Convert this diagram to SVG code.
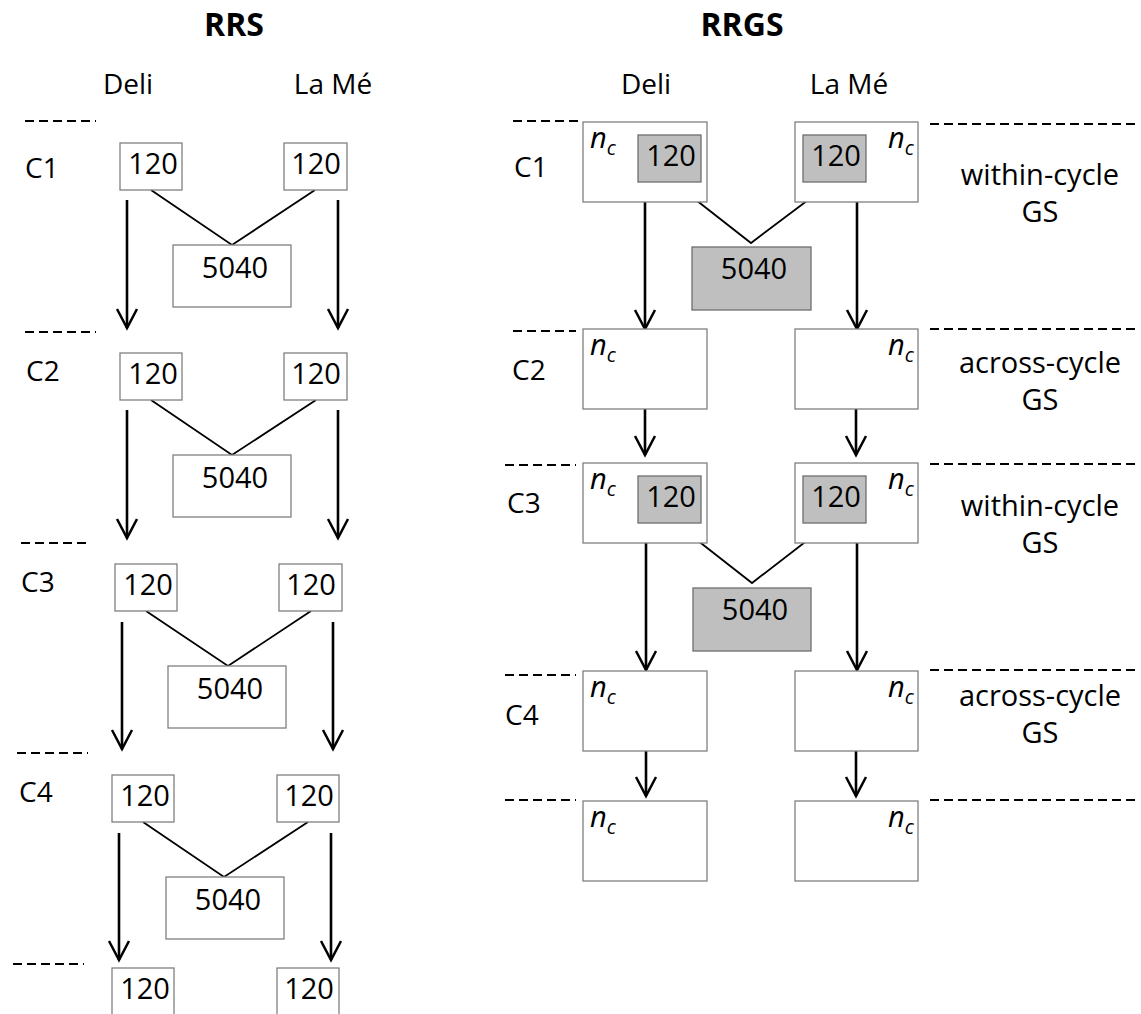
<svg xmlns="http://www.w3.org/2000/svg" width="1141" height="1014" viewBox="0 0 1141 1014">
<defs>
<marker id="ah" markerUnits="userSpaceOnUse" viewBox="-22 -13 26 26" markerWidth="26" markerHeight="26" refX="0" refY="0" orient="auto">
<path d="M-19,-10 L0,0 L-19,10" fill="none" stroke="#000" stroke-width="2.5"/>
</marker>
<style>
text{font-family:"Open Sans","Liberation Sans",sans-serif;fill:#000}
.title{font-size:32px;font-weight:bold;text-anchor:middle}
.col{font-size:28px;text-anchor:middle}
.cyc{font-size:28px}
.num{font-size:29px;text-anchor:middle}
.lab{font-size:29px;text-anchor:middle}
.nc{font-size:29px;font-style:italic}
.nc tspan{font-size:20px}
.box{fill:#fff;stroke:#808080;stroke-width:1.3}
.gbox{fill:#bfbfbf;stroke:#6e6e6e;stroke-width:1.3}
.link{stroke:#000;stroke-width:1.8;fill:none}
.arr{stroke:#000;stroke-width:2.6;fill:none;marker-end:url(#ah)}
.dash{stroke:#000;stroke-width:1.8;stroke-dasharray:9 5;fill:none}
</style>
</defs>
<rect width="1141" height="1014" fill="#fff"/>

<g id="headings">
<text class="title" x="234" y="36">RRS</text>
<text class="title" x="742" y="36">RRGS</text>
<text class="col" x="128" y="94">Deli</text>
<text class="col" x="333" y="94">La Mé</text>
<text class="col" x="646" y="94">Deli</text>
<text class="col" x="849" y="94">La Mé</text>
</g>

<g id="cycle-labels">
<text class="cyc" x="25" y="178">C1</text>
<text class="cyc" x="26" y="381">C2</text>
<text class="cyc" x="21" y="592">C3</text>
<text class="cyc" x="19" y="802">C4</text>
<text class="cyc" x="514" y="177">C1</text>
<text class="cyc" x="512" y="380">C2</text>
<text class="cyc" x="507" y="513">C3</text>
<text class="cyc" x="505" y="725">C4</text>
<text class="lab" x="1040" y="185">within-cycle</text>
<text class="lab" x="1040" y="222">GS</text>
<text class="lab" x="1040" y="373">across-cycle</text>
<text class="lab" x="1040" y="410">GS</text>
<text class="lab" x="1040" y="516">within-cycle</text>
<text class="lab" x="1040" y="553">GS</text>
<text class="lab" x="1040" y="706">across-cycle</text>
<text class="lab" x="1040" y="743">GS</text>
</g>

<g id="separators">
<line class="dash" x1="25" y1="121" x2="96" y2="121"/>
<line class="dash" x1="25" y1="332" x2="96" y2="332"/>
<line class="dash" x1="21" y1="543" x2="91" y2="543"/>
<line class="dash" x1="17" y1="753" x2="88" y2="753"/>
<line class="dash" x1="13" y1="964" x2="84" y2="964"/>
<line class="dash" x1="513" y1="121" x2="583" y2="121"/>
<line class="dash" x1="513" y1="331" x2="576" y2="331"/>
<line class="dash" x1="505" y1="465" x2="576" y2="465"/>
<line class="dash" x1="505" y1="675" x2="576" y2="675"/>
<line class="dash" x1="505" y1="800" x2="576" y2="800"/>
<line class="dash" x1="930" y1="124" x2="1135" y2="124"/>
<line class="dash" x1="930" y1="329" x2="1135" y2="329"/>
<line class="dash" x1="930" y1="464" x2="1135" y2="464"/>
<line class="dash" x1="930" y1="670" x2="1135" y2="670"/>
<line class="dash" x1="930" y1="800" x2="1135" y2="800"/>
</g>

<g id="connectors">
<polyline class="link" points="151,190 232,245 315,190"/>
<line class="arr" x1="127" y1="200" x2="127" y2="328"/>
<line class="arr" x1="338" y1="200" x2="338" y2="328"/>
<polyline class="link" points="151,400 232,455 316,400"/>
<line class="arr" x1="127" y1="410" x2="127" y2="538"/>
<line class="arr" x1="338" y1="410" x2="338" y2="538"/>
<polyline class="link" points="146,611 228,666 311,611"/>
<line class="arr" x1="122" y1="622" x2="122" y2="749"/>
<line class="arr" x1="333" y1="622" x2="333" y2="749"/>
<polyline class="link" points="143,822 224,877 308,822"/>
<line class="arr" x1="119" y1="833" x2="119" y2="960"/>
<line class="arr" x1="331" y1="833" x2="331" y2="960"/>
<polyline class="link" points="673,182 751,243 832,182"/>
<line class="arr" x1="645" y1="202" x2="645" y2="329"/>
<line class="arr" x1="857" y1="202" x2="857" y2="329"/>
<line class="arr" x1="645" y1="409" x2="645" y2="455"/>
<line class="arr" x1="856" y1="409" x2="856" y2="455"/>
<polyline class="link" points="674,522 752,583 831,522"/>
<line class="arr" x1="646" y1="543" x2="646" y2="670"/>
<line class="arr" x1="857" y1="543" x2="857" y2="670"/>
<line class="arr" x1="646" y1="751" x2="646" y2="796"/>
<line class="arr" x1="856" y1="751" x2="856" y2="796"/>
</g>

<g id="rrs-c1-deli"><rect class="box" x="120" y="143" width="62" height="47"/><text class="num" x="153" y="174">120</text></g>
<g id="rrs-c1-lame"><rect class="box" x="284" y="143" width="63" height="47"/><text class="num" x="316" y="174">120</text></g>
<g id="rrs-c1-cross"><rect class="box" x="173" y="245" width="118" height="62"/><text class="num" x="235" y="278">5040</text></g>
<g id="rrs-c2-deli"><rect class="box" x="120" y="353" width="62" height="47"/><text class="num" x="153" y="384">120</text></g>
<g id="rrs-c2-lame"><rect class="box" x="284" y="353" width="63" height="47"/><text class="num" x="316" y="384">120</text></g>
<g id="rrs-c2-cross"><rect class="box" x="173" y="455" width="118" height="62"/><text class="num" x="235" y="488">5040</text></g>
<g id="rrs-c3-deli"><rect class="box" x="115" y="564" width="62" height="47"/><text class="num" x="148" y="595">120</text></g>
<g id="rrs-c3-lame"><rect class="box" x="279" y="564" width="63" height="47"/><text class="num" x="311" y="595">120</text></g>
<g id="rrs-c3-cross"><rect class="box" x="168" y="666" width="118" height="62"/><text class="num" x="230" y="699">5040</text></g>
<g id="rrs-c4-deli"><rect class="box" x="112" y="775" width="62" height="47"/><text class="num" x="145" y="806">120</text></g>
<g id="rrs-c4-lame"><rect class="box" x="277" y="775" width="62" height="47"/><text class="num" x="309" y="806">120</text></g>
<g id="rrs-c4-cross"><rect class="box" x="166" y="877" width="118" height="62"/><text class="num" x="228" y="910">5040</text></g>
<g id="rrs-c5-deli"><rect class="box" x="112" y="968" width="62" height="60"/><text class="num" x="145" y="999">120</text></g>
<g id="rrs-c5-lame"><rect class="box" x="277" y="968" width="62" height="60"/><text class="num" x="309" y="999">120</text></g>

<g id="rrgs-c1-deli"><rect class="box" x="583" y="122" width="124" height="80"/><text class="nc" x="590" y="148">n<tspan dy="7">c</tspan></text><rect class="gbox" x="638" y="135" width="63" height="47"/><text class="num" x="671" y="166">120</text></g>
<g id="rrgs-c1-lame"><rect class="box" x="795" y="122" width="123" height="80"/><text class="nc" x="888" y="148">n<tspan dy="7">c</tspan></text><rect class="gbox" x="803" y="135" width="63" height="47"/><text class="num" x="836" y="166">120</text></g>
<g id="rrgs-c1-cross"><rect class="gbox" x="692" y="247" width="119" height="63"/><text class="num" x="754" y="279">5040</text></g>
<g id="rrgs-c2-deli"><rect class="box" x="583" y="329" width="124" height="80"/><text class="nc" x="590" y="355">n<tspan dy="7">c</tspan></text></g>
<g id="rrgs-c2-lame"><rect class="box" x="795" y="329" width="123" height="80"/><text class="nc" x="888" y="355">n<tspan dy="7">c</tspan></text></g>
<g id="rrgs-c3-deli"><rect class="box" x="583" y="463" width="124" height="80"/><text class="nc" x="590" y="489">n<tspan dy="7">c</tspan></text><rect class="gbox" x="638" y="476" width="63" height="47"/><text class="num" x="671" y="507">120</text></g>
<g id="rrgs-c3-lame"><rect class="box" x="795" y="463" width="123" height="80"/><text class="nc" x="888" y="489">n<tspan dy="7">c</tspan></text><rect class="gbox" x="803" y="476" width="63" height="47"/><text class="num" x="836" y="507">120</text></g>
<g id="rrgs-c3-cross"><rect class="gbox" x="693" y="588" width="118" height="63"/><text class="num" x="755" y="620">5040</text></g>
<g id="rrgs-c4-deli"><rect class="box" x="583" y="671" width="124" height="80"/><text class="nc" x="590" y="697">n<tspan dy="7">c</tspan></text></g>
<g id="rrgs-c4-lame"><rect class="box" x="795" y="671" width="123" height="80"/><text class="nc" x="888" y="697">n<tspan dy="7">c</tspan></text></g>
<g id="rrgs-c5-deli"><rect class="box" x="583" y="801" width="124" height="80"/><text class="nc" x="590" y="827">n<tspan dy="7">c</tspan></text></g>
<g id="rrgs-c5-lame"><rect class="box" x="795" y="801" width="123" height="80"/><text class="nc" x="888" y="827">n<tspan dy="7">c</tspan></text></g>
</svg>
